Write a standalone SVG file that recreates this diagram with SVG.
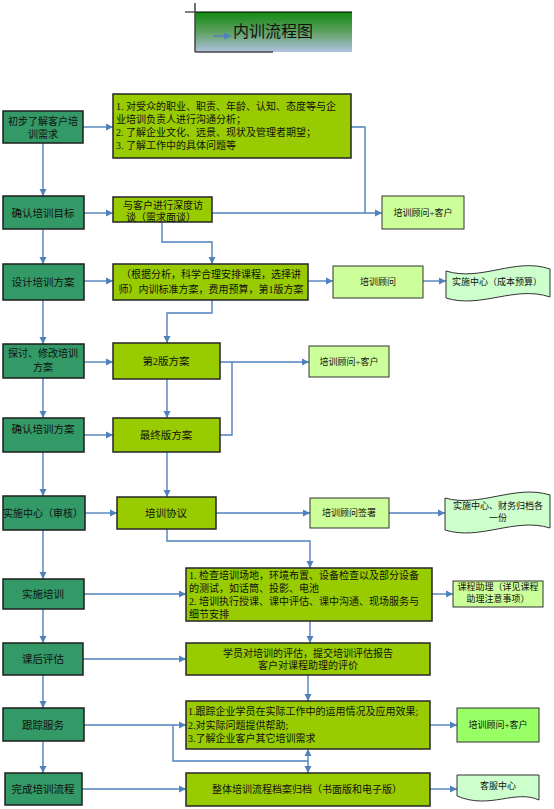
<svg xmlns="http://www.w3.org/2000/svg" width="554" height="809" viewBox="0 0 554 809">
<defs>
<style>
.dk{fill:#339966;stroke:#1e1e1e;stroke-width:1.5}
.yg{fill:#99cc00;stroke:#262626;stroke-width:1.5}
.lg{fill:#ccff99;stroke:#333;stroke-width:1}
.doc{fill:#ccffcc;stroke:#333;stroke-width:1}
.bg{fill:#99ff66;stroke:#333;stroke-width:1}
text{font-family:"Liberation Serif","Noto Sans CJK SC",serif;fill:#111;dominant-baseline:central}
.m{text-anchor:middle}
.f11{font-size:10.5px}
.f10{font-size:10px}
.f9{font-size:9px}
.c{fill:none;stroke:#4f81bd;stroke-width:1.4}
</style>
<linearGradient id="tg" x1="0" y1="0" x2="0" y2="1">
<stop offset="0" stop-color="#0f8a0f"/>
<stop offset="0.5" stop-color="#5fa062"/>
<stop offset="1" stop-color="#b0c2e2"/>
</linearGradient>
<marker id="a" markerWidth="8" markerHeight="8" refX="7" refY="4" orient="auto" markerUnits="userSpaceOnUse"><path d="M0,0.5 L7,4 L0,7.5 Z" fill="#4f81bd"/></marker>
</defs>

<g id="title">
<rect x="195" y="12" width="157" height="40" fill="url(#tg)"/>
<line x1="185" y1="12" x2="352" y2="12" stroke="#000" stroke-width="1.2"/>
<line x1="195" y1="3" x2="195" y2="52" stroke="#444" stroke-width="1.5"/>
<line x1="195" y1="52" x2="273" y2="52" stroke="#444" stroke-width="1.5"/>
<line x1="213" y1="36" x2="231" y2="36" stroke="#4f81bd" stroke-width="1.4" marker-end="url(#a)"/>
<text x="233" y="31" style="font-size:16px">内训流程图</text>
</g>

<g id="connectors">
<path class="c" d="M43,143 V196" marker-end="url(#a)"/>
<path class="c" d="M43,229 V264" marker-end="url(#a)"/>
<path class="c" d="M43,300 V344" marker-end="url(#a)"/>
<path class="c" d="M43,378 V418" marker-end="url(#a)"/>
<path class="c" d="M43,452 V496" marker-end="url(#a)"/>
<path class="c" d="M43,530 V579" marker-end="url(#a)"/>
<path class="c" d="M43,609 V643" marker-end="url(#a)"/>
<path class="c" d="M43,675 V708" marker-end="url(#a)"/>
<path class="c" d="M43,741 V773" marker-end="url(#a)"/>

<path class="c" d="M83,127 H113" marker-end="url(#a)"/>
<path class="c" d="M84,213 H113" marker-end="url(#a)"/>
<path class="c" d="M84,281 H113" marker-end="url(#a)"/>
<path class="c" d="M84,362 H113" marker-end="url(#a)"/>
<path class="c" d="M84,435 H113" marker-end="url(#a)"/>
<path class="c" d="M85,513 H117" marker-end="url(#a)"/>
<path class="c" d="M84,594 H186" marker-end="url(#a)"/>
<path class="c" d="M83,659 H186" marker-end="url(#a)"/>
<path class="c" d="M84,725 H186" marker-end="url(#a)"/>
<path class="c" d="M82,789 H186" marker-end="url(#a)"/>

<path class="c" d="M351,127 H365 V213"/>
<path class="c" d="M212,213 H382" marker-end="url(#a)"/>
<path class="c" d="M162,222 V242 H212 V264" marker-end="url(#a)"/>
<path class="c" d="M308,281 H333" marker-end="url(#a)"/>
<path class="c" d="M423,281 H446" marker-end="url(#a)"/>
<path class="c" d="M212,300 V313 H167 V343" marker-end="url(#a)"/>
<path class="c" d="M220,362 H309" marker-end="url(#a)"/>
<path class="c" d="M220,435 H232 V362"/>
<path class="c" d="M167,379 V418" marker-end="url(#a)"/>
<path class="c" d="M167,452 V497" marker-end="url(#a)"/>
<path class="c" d="M216,513 H310" marker-end="url(#a)"/>
<path class="c" d="M389,513 H445" marker-end="url(#a)"/>
<path class="c" d="M167,529 V541 H310 V568" marker-end="url(#a)"/>
<path class="c" d="M432,594 H453" marker-end="url(#a)"/>
<path class="c" d="M310,621 V643" marker-end="url(#a)"/>
<path class="c" d="M308,675 V701" marker-end="url(#a)"/>
<path class="c" d="M173,725 V761 H308"/>
<path class="c" d="M308,761 V749" marker-end="url(#a)"/>
<path class="c" d="M308,761 V773" marker-end="url(#a)"/>
<path class="c" d="M430,725 H457" marker-end="url(#a)"/>
<path class="c" d="M430,789 H457" marker-end="url(#a)"/>
</g>

<g id="n1"><rect class="dk" x="3" y="111" width="80" height="32"/>
<text class="m f10" x="43" y="121">初步了解客户培</text><text class="m f10" x="43" y="134">训需求</text></g>
<g id="n2"><rect class="dk" x="3" y="196" width="81" height="33"/>
<text class="m f11" x="43" y="213">确认培训目标</text></g>
<g id="n3"><rect class="dk" x="3" y="264" width="81" height="36"/>
<text class="m f11" x="43" y="282">设计培训方案</text></g>
<g id="n4"><rect class="dk" x="3" y="344" width="81" height="34"/>
<text class="m f10" x="43" y="353">探讨、修改培训</text><text class="m f10" x="43" y="367">方案</text></g>
<g id="n5"><rect class="dk" x="3" y="418" width="81" height="34"/>
<text class="m f11" x="43" y="429">确认培训方案</text></g>
<g id="n6"><rect class="dk" x="3" y="496" width="82" height="34"/>
<text class="m f10" x="43" y="513">实施中心（审核）</text></g>
<g id="n7"><rect class="dk" x="3" y="579" width="81" height="30"/>
<text class="m f11" x="43" y="594">实施培训</text></g>
<g id="n8"><rect class="dk" x="3" y="643" width="80" height="32"/>
<text class="m f11" x="43" y="659">课后评估</text></g>
<g id="n9"><rect class="dk" x="3" y="708" width="81" height="33"/>
<text class="m f11" x="43" y="725">跟踪服务</text></g>
<g id="n10"><rect class="dk" x="5" y="773" width="77" height="32"/>
<text class="m f11" x="43" y="789">完成培训流程</text></g>

<g id="g1"><rect class="yg" x="113" y="94" width="238" height="64"/>
<text class="f10" x="116" y="106">1. 对受众的职业、职责、年龄、认知、态度等与企</text>
<text class="f10" x="116" y="119">业培训负责人进行沟通分析；</text>
<text class="f10" x="116" y="132">2. 了解企业文化、远景、现状及管理者期望；</text>
<text class="f10" x="116" y="145">3. 了解工作中的具体问题等</text></g>
<g id="g2"><rect class="yg" x="113" y="197" width="99" height="25"/>
<text class="m f10" x="163" y="205">与客户进行深度访</text><text class="m f10" x="161" y="217">谈（需求面谈）</text></g>
<g id="g3"><rect class="yg" x="113" y="264" width="195" height="36"/>
<text class="m f10" x="211" y="274">（根据分析，科学合理安排课程，选择讲</text>
<text class="m f10" x="211" y="289">师）内训标准方案，费用预算，第1版方案</text></g>
<g id="g4"><rect class="yg" x="113" y="343" width="107" height="36"/>
<text class="m f11" x="166" y="361">第2版方案</text></g>
<g id="g5"><rect class="yg" x="113" y="418" width="107" height="34"/>
<text class="m f11" x="166" y="435">最终版方案</text></g>
<g id="g6"><rect class="yg" x="117" y="497" width="99" height="32"/>
<text class="m f11" x="166" y="513">培训协议</text></g>
<g id="g7"><rect class="yg" x="186" y="568" width="246" height="53"/>
<text class="f10" x="189" y="575">1. 检查培训场地，环境布置、设备检查以及部分设备</text>
<text class="f10" x="189" y="588">的测试，如话筒、投影、电池</text>
<text class="f10" x="189" y="601">2. 培训执行授课、课中评估、课中沟通、现场服务与</text>
<text class="f10" x="189" y="614">细节安排</text></g>
<g id="g8"><rect class="yg" x="186" y="643" width="244" height="32"/>
<text class="m f10" x="308" y="653">学员对培训的评估，提交培训评估报告</text>
<text class="m f10" x="308" y="665">客户对课程助理的评价</text></g>
<g id="g9"><rect class="yg" x="186" y="701" width="244" height="48"/>
<text class="f10" x="188" y="711">1.跟踪企业学员在实际工作中的运用情况及应用效果;</text>
<text class="f10" x="188" y="725">2.对实际问题提供帮助;</text>
<text class="f10" x="188" y="738">3.了解企业客户其它培训需求</text></g>
<g id="g10"><rect class="yg" x="186" y="773" width="244" height="33"/>
<text class="m f10" x="307" y="789">整体培训流程档案归档（书面版和电子版）</text></g>

<g id="r1"><rect class="lg" x="382" y="196" width="82" height="33"/>
<text class="m f9" x="423" y="213">培训顾问+客户</text></g>
<g id="r2"><rect class="lg" x="333" y="266" width="90" height="32"/>
<text class="m f9" x="378" y="282">培训顾问</text></g>
<g id="r3"><path class="doc" d="M446,271 C481,282 515,257 550,269 L550,297 C515,285 481,309 446,298 Z"/>
<text class="m f9" x="497" y="282">实施中心（成本预算）</text></g>
<g id="r4"><rect class="lg" x="309" y="346" width="80" height="31"/>
<text class="m f9" x="349" y="362">培训顾问+客户</text></g>
<g id="r5"><rect class="lg" x="310" y="498" width="79" height="30"/>
<text class="m f9" x="349" y="513">培训顾问签署</text></g>
<g id="r6"><path class="doc" d="M445,498 C480,508 515,484 550,495 L550,528 C515,517 480,541 445,530 Z"/>
<text class="m f9" x="498" y="506">实施中心、财务归档各</text><text class="m f9" x="498" y="518">一份</text></g>
<g id="r7"><rect class="lg" x="453" y="581" width="90" height="26"/>
<text class="m f9" x="498" y="587">课程助理（详见课程</text><text class="m f9" x="498" y="599">助理注意事项）</text></g>
<g id="r8"><rect class="bg" x="457" y="708" width="82" height="34"/>
<text class="m f9" x="498" y="725">培训顾问+客户</text></g>
<g id="r9"><path class="doc" d="M457,775 H539 V800 C515,789 490,810 457,796 Z"/>
<text class="m f9" x="498" y="786">客服中心</text></g>
</svg>
